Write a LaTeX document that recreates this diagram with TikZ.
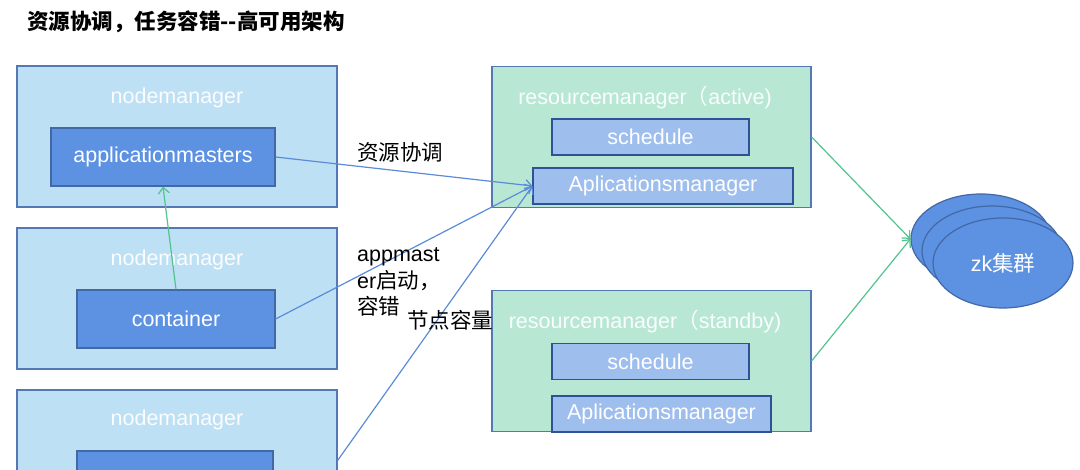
\documentclass[tikz,border=0pt]{standalone}
\usepackage{fontspec}
\setmainfont{Liberation Sans}
\newfontfamily\cjk{Noto Sans CJK SC}
\usepackage{tikz}
\usetikzlibrary{arrows.meta, positioning, shapes.geometric}

\definecolor{nmfill}{RGB}{189,224,245}
\definecolor{nmline}{RGB}{84,120,182}
\definecolor{darkfill}{RGB}{93,145,226}
\definecolor{darkline}{RGB}{66,104,165}
\definecolor{rmfill}{RGB}{184,232,212}
\definecolor{subfill}{RGB}{158,190,238}
\definecolor{subline}{RGB}{47,82,150}
\definecolor{bluearrow}{RGB}{91,139,216}
\definecolor{greenarrow}{RGB}{80,196,140}

\begin{document}
\begin{tikzpicture}[x=1pt,y=-1pt,on grid,node distance=162pt,
    font=\fontsize{21.5}{26.5}\selectfont,
    nm/.style={draw=nmline,line width=1.2pt,fill=nmfill,minimum width=320pt,minimum height=141pt,inner sep=0pt},
    rm/.style={draw=nmline,line width=1.2pt,fill=rmfill,minimum width=319pt,minimum height=141pt,inner sep=0pt},
    work/.style={draw=darkline,line width=1.2pt,fill=darkfill,text=white,minimum height=58pt,inner sep=0pt},
    sub/.style={draw=subline,line width=1.2pt,fill=subfill,text=white,minimum height=36pt,inner sep=0pt},
    head/.style={text=white!92!nmfill,inner sep=0pt},
    zk/.style={ellipse,draw=darkline,line width=1.2pt,fill=darkfill,minimum width=140pt,minimum height=90pt,inner sep=0pt},
    lbl/.style={anchor=west,inner sep=0pt},
    bluearr/.style={-{Straight Barb[length=6pt,width=11pt]},draw=bluearrow,line width=1.2pt},
    greenarr/.style={-{Straight Barb[length=6pt,width=11pt]},draw=greenarrow,line width=1.2pt}]
   \useasboundingbox (0,0) rectangle (1080,470);
   \node[lbl] (title) at (27,22) {\fontsize{21.5}{24}\selectfont\cjk\bfseries 资源协调，任务容错--高可用架构};

   % nodemanagers
   \node[nm] (nm1) at (177,136.5) {};
   \node[nm] (nm2) [below=of nm1] {};
   \node[nm] (nm3) [below=of nm2] {};
   \node[head] (nmh1) at (177,98) {nodemanager};
   \node[head] (nmh2) at (177,260) {nodemanager};
   \node[head] (nmh3) at (177,420) {nodemanager};
   \node[work,minimum width=224pt] (am) at (163,157) {applicationmasters};
   \node[work,minimum width=198pt] (cont) at (176,319) {container};
   \node[work,minimum width=196pt] (cont3) at (175,480) {};

   % resourcemanagers
   \node[rm] (rm1) at (651.5,137) {};
   \node[rm] (rm2) [below=224pt of rm1] {};
   \node[head] (rmh1) at (645,98) {resourcemanager{\cjk（}active)};
   \node[head] (rmh2) at (645,322) {resourcemanager{\cjk（}standby)};
   \node[sub,minimum width=197pt] (sch1) at (650.5,137) {schedule};
   \node[sub,minimum width=260pt] (apm1) at (663,186) {Aplicationsmanager};
   \node[sub,minimum width=197pt] (sch2) at (650.5,361.5) {schedule};
   \node[sub,minimum width=219pt] (apm2) at (661.5,414) {Aplicationsmanager};

   % zk
   \node[zk] (zk1) at (981,239) {};
   \node[zk] (zk2) at (992,251) {};
   \node[zk,text=white] (zk3) at (1003,263) {zk{\cjk 集群}};

   \path
    (am.east) edge[bluearr] (apm1.west)
    (cont.east) edge[bluearr] (apm1.west)
    (nm3.east) edge[bluearr] (apm1.west);
   \draw[greenarr] (cont.north) -- (am.south);
   \draw[greenarr] (rm1.east) -- (zk1.west);
   \draw[greenarr] (rm2.east) -- (zk1.west);

   \node[lbl] (l1) at (357,152) {\cjk 资源协调};
   \node[lbl,align=left] (l2) at (357,282) {appmast\\er{\cjk 启动，}\\{\cjk 容错}};
   \node[lbl] (l3) at (407,320) {\cjk 节点容量};
\end{tikzpicture}
\end{document}
